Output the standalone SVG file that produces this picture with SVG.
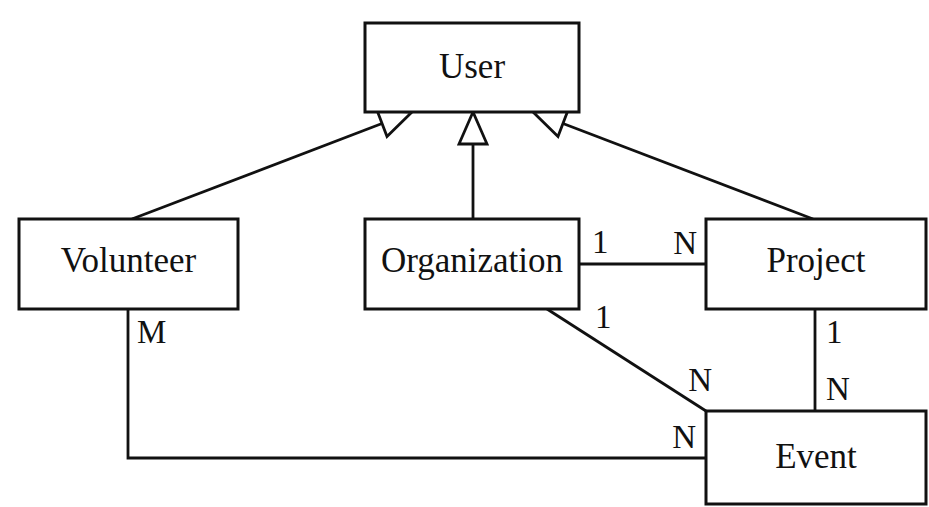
<svg xmlns="http://www.w3.org/2000/svg" width="929" height="507" viewBox="0 0 929 507">
  <style>
    .box { fill: #ffffff; stroke: #111111; stroke-width: 3; }
    .line { fill: none; stroke: #111111; stroke-width: 2.8; }
    .head { fill: #ffffff; stroke: #111111; stroke-width: 2.8; stroke-linejoin: miter; }
    .name { font-family: "Liberation Serif", "DejaVu Serif", serif; font-size: 35px; fill: #111111; text-anchor: middle; }
    .lbl { font-family: "Liberation Serif", "DejaVu Serif", serif; font-size: 33px; fill: #111111; }
  </style>
  <rect x="0" y="0" width="929" height="507" fill="#ffffff"/>
  <g id="connectors">
    <!-- inheritance -->
    <line class="line" x1="132" y1="219" x2="382" y2="123.5"/>
    <polygon class="head" points="412,112 377,110.3 387,136.5"/>
    <line class="line" x1="473" y1="219" x2="473" y2="144"/>
    <polygon class="head" points="473,112 459,144 487,144"/>
    <line class="line" x1="813" y1="219" x2="563" y2="123.5"/>
    <polygon class="head" points="533,112 568,110.3 558,136.5"/>
    <!-- associations -->
    <line class="line" x1="579" y1="264" x2="706" y2="264"/>
    <line class="line" x1="547" y1="309" x2="706" y2="411"/>
    <line class="line" x1="815" y1="309" x2="815" y2="411"/>
    <polyline class="line" points="128,309 128,458 706,458"/>
    <text class="lbl" x="592" y="253">1</text>
    <text class="lbl" x="697" y="254" text-anchor="end">N</text>
    <text class="lbl" x="595" y="328">1</text>
    <text class="lbl" x="712" y="391" text-anchor="end">N</text>
    <text class="lbl" x="696" y="448" text-anchor="end">N</text>
    <text class="lbl" x="826" y="343">1</text>
    <text class="lbl" x="826" y="400">N</text>
    <text class="lbl" x="137" y="343">M</text>
  </g>
  <g id="user">
    <rect class="box" x="365" y="23" width="214" height="89"/>
    <text class="name" x="472" y="78">User</text>
  </g>
  <g id="volunteer">
    <rect class="box" x="19" y="219" width="219" height="90"/>
    <text class="name" x="128.5" y="272">Volunteer</text>
  </g>
  <g id="organization">
    <rect class="box" x="365" y="219" width="214" height="90"/>
    <text class="name" x="472" y="272">Organization</text>
  </g>
  <g id="project">
    <rect class="box" x="706" y="219" width="220" height="90"/>
    <text class="name" x="816" y="272">Project</text>
  </g>
  <g id="event">
    <rect class="box" x="706" y="411" width="220" height="93"/>
    <text class="name" x="816" y="468">Event</text>
  </g>
</svg>
